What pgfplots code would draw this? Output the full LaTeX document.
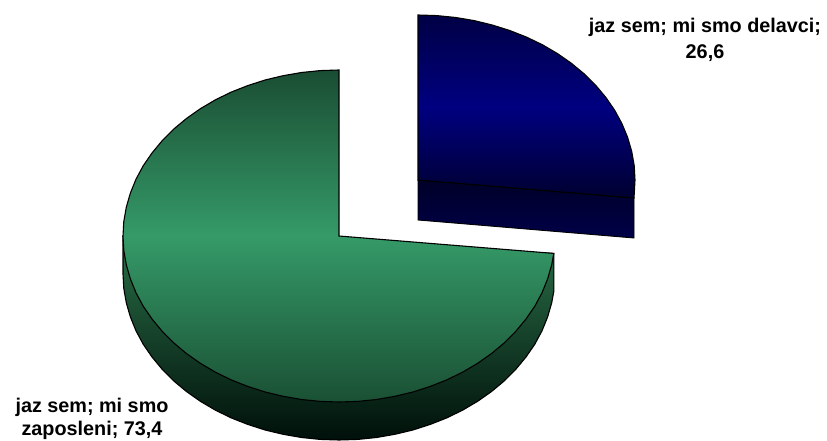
\documentclass[border=0pt]{standalone}
\usepackage{fontspec}
\setmainfont{Liberation Sans}
\usepackage{pgfplots}
\pgfplotsset{compat=1.18}
\definecolor{greenD}{HTML}{1A4D33}
\definecolor{greenM}{HTML}{359A68}
\definecolor{greenB}{HTML}{1A5034}
\definecolor{wallT}{HTML}{2A7048}
\definecolor{wallB}{HTML}{00100A}
\definecolor{blueT}{HTML}{000045}
\definecolor{blueM}{HTML}{000080}
\definecolor{blueB}{HTML}{000030}
\definecolor{blueWT}{HTML}{000028}
\definecolor{blueWB}{HTML}{000048}
\begin{document}
\begin{tikzpicture}
\useasboundingbox (0,0) rectangle (827pt,441pt);
\begin{axis}[
  at={(0,0)}, anchor=south west,
  width=827pt, height=441pt, scale only axis,
  xmin=0, xmax=827, ymin=0, ymax=441, y dir=reverse,
  hide axis, clip=false]
% green slice, side wall
\addplot[draw=black, line width=1.1pt, top color=wallT, bottom color=wallB, mark=none] coordinates {
  (123,236) (123,274) (123.8,288.5) (126.3,302.8) (130.4,317) (136,330.8)
  (143.2,344.2) (152,357) (162.1,369.2) (173.5,380.7) (186.3,391.4)
  (200.2,401.2) (215.1,410) (231,417.8) (247.7,424.4) (265.1,430)
  (283.1,434.3) (301.5,437.5) (320.2,439.4) (339,440) (357.8,439.4)
  (376.5,437.5) (394.9,434.3) (412.9,430) (430.3,424.4) (447,417.8)
  (462.9,410) (477.8,401.2) (491.7,391.4) (504.5,380.7) (515.9,369.2)
  (526,357) (534.8,344.2) (542,330.8) (547.6,317) (551.7,302.8)
  (553.8,291.4) (553.8,253.4)
} -- cycle;
% green slice, top: 73,4
\addplot[draw=black, line width=1.1pt, top color=greenD, bottom color=greenB, middle color=greenM, mark=none] coordinates {
  (339,236) (339,70) (320.2,70.6) (301.5,72.5) (283.1,75.7) (265.1,80)
  (247.7,85.6) (231,92.2) (215.1,100) (200.2,108.8) (186.3,118.6)
  (173.5,129.3) (162.1,140.8) (152,153) (143.2,165.8) (136,179.2)
  (130.4,193) (126.3,207.2) (123.8,221.5) (123,236) (123.8,250.5)
  (126.3,264.8) (130.4,279) (136,292.8) (143.2,306.2) (152,319)
  (162.1,331.2) (173.5,342.7) (186.3,353.4) (200.2,363.2) (215.1,372)
  (231,379.8) (247.7,386.4) (265.1,392) (283.1,396.3) (301.5,399.5)
  (320.2,401.4) (339,402) (357.8,401.4) (376.5,399.5) (394.9,396.3)
  (412.9,392) (430.3,386.4) (447,379.8) (462.9,372) (477.8,363.2)
  (491.7,353.4) (504.5,342.7) (515.9,331.2) (526,319) (534.8,306.2)
  (542,292.8) (547.6,279) (551.7,264.8) (553.8,253.4)
} -- cycle;
% blue slice, side wall
\addplot[draw=black, line width=0.9pt, top color=blueWT, bottom color=blueWB, mark=none] coordinates {
  (418,180) (418,220) (634,238) (634,198)
} -- cycle;
% blue slice, top: 26,6
\addplot[draw=black, line width=1.1pt, top color=blueT, bottom color=blueB, middle color=blueM, mark=none] coordinates {
  (418,180) (418,15) (436.9,15.6) (455.7,17.5) (474.2,20.6) (492.2,25)
  (509.7,30.5) (526.5,37.1) (542.5,44.8) (557.5,53.6) (571.4,63.3)
  (584.2,73.9) (595.8,85.4) (605.9,97.5) (614.7,110.3) (621.9,123.6)
  (627.6,137.3) (631.7,151.4) (634.2,165.6) (635,180) (634,198)
} -- cycle;
\node[font=\bfseries\fontsize{19.8}{23}\selectfont, anchor=base] at (axis cs:705,33) {jaz sem; mi smo delavci;};
\node[font=\bfseries\fontsize{19.8}{23}\selectfont, anchor=base] at (axis cs:705,59) {26,6};
\node[font=\bfseries\fontsize{19.8}{23}\selectfont, anchor=base] at (axis cs:92,412) {jaz sem; mi smo};
\node[font=\bfseries\fontsize{19.8}{23}\selectfont, anchor=base] at (axis cs:92,435) {zaposleni; 73,4};
\end{axis}
\end{tikzpicture}
\end{document}
